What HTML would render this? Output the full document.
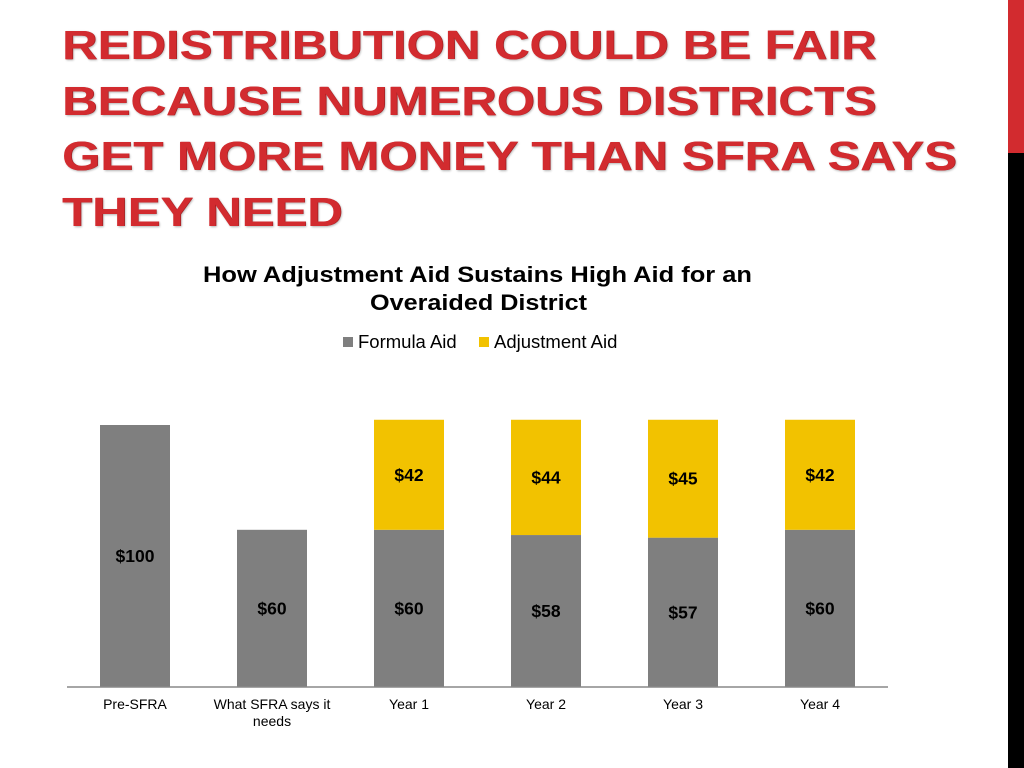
<!DOCTYPE html>
<html><head><meta charset="utf-8"><style>
body{margin:0;width:1024px;height:768px;background:#fff;position:relative;overflow:hidden;font-family:"Liberation Sans",sans-serif}
#title{position:absolute;left:62px;top:18px;margin:0;font-size:41px;line-height:55.5px;font-weight:bold;color:#d22b2f;text-shadow:1px 1px 2px rgba(0,0,0,0.3),0.6px 0 0 #d22b2f;transform:scaleX(1.2);transform-origin:left top;white-space:nowrap}
#redbar{position:absolute;left:1008px;top:0;width:16px;height:153px;background:#d22b2f}
#blackbar{position:absolute;left:1008px;top:153px;width:16px;height:615px;background:#000}
</style></head><body>
<h1 id="title">REDISTRIBUTION COULD BE FAIR<br>BECAUSE NUMEROUS DISTRICTS<br>GET MORE MONEY THAN SFRA SAYS<br>THEY NEED</h1>
<div id="redbar"></div>
<div id="blackbar"></div>
<svg id="chart" width="1024" height="768" style="position:absolute;left:0;top:0">
<text x="203" y="282" textLength="549" lengthAdjust="spacingAndGlyphs" font-size="22" font-weight="bold" fill="#000">How Adjustment Aid Sustains High Aid for an</text>
<text x="370" y="310" textLength="217" lengthAdjust="spacingAndGlyphs" font-size="22" font-weight="bold" fill="#000">Overaided District</text>
<g><rect x="343" y="337" width="10" height="10" fill="#7f7f7f"/><text x="358" y="348" font-size="18.5">Formula Aid</text></g>
<g><rect x="479" y="337" width="10" height="10" fill="#f2c200"/><text x="494" y="348" font-size="18.5">Adjustment Aid</text></g>
<g id="bars"></g>
<line x1="67" y1="687" x2="888" y2="687" stroke="#888" stroke-width="1.5"/>
</svg>
<script>
const categories=["Pre-SFRA","What SFRA says it|needs","Year 1","Year 2","Year 3","Year 4"];
const formulaAid=[100,60,60,58,57,60];
const adjustmentAid=[0,0,42,44,45,42];
const ns="http://www.w3.org/2000/svg";
const base=687, perUnit=2.62, x0=135, step=137, bw=70;
const y=v=>base-v*perUnit;
const xc=i=>x0+i*step;
const g=document.getElementById('bars');
function mk(tag,attrs){const e=document.createElementNS(ns,tag);for(const k in attrs)e.setAttribute(k,attrs[k]);return e;}
categories.forEach((c,i)=>{
 const f=formulaAid[i], a=adjustmentAid[i];
 const r1=mk('rect',{x:xc(i)-bw/2,y:y(f),width:bw,height:f*perUnit,fill:'#7f7f7f'});
 
 
 g.appendChild(r1);
 const t1=mk('text',{x:xc(i),y:(y(f)+base)/2+6,'text-anchor':'middle','font-size':17.5,'font-weight':'bold'});
 t1.textContent='$'+f;
 
 
 g.appendChild(t1);
 if(a>0){
  const r2=mk('rect',{x:xc(i)-bw/2,y:y(f+a),width:bw,height:a*perUnit,fill:'#f2c200'});
  
  
  g.appendChild(r2);
  const t2=mk('text',{x:xc(i),y:(y(f+a)+y(f))/2+6,'text-anchor':'middle','font-size':17.5,'font-weight':'bold'});
  t2.textContent='$'+a;
  
  
  g.appendChild(t2);
 }
 c.split('|').forEach((ln,j)=>{
  const t=mk('text',{x:xc(i),y:709+j*17,'text-anchor':'middle','font-size':14});
  t.textContent=ln;
  
  
  g.appendChild(t);
 });
});
</script>
</body></html>
